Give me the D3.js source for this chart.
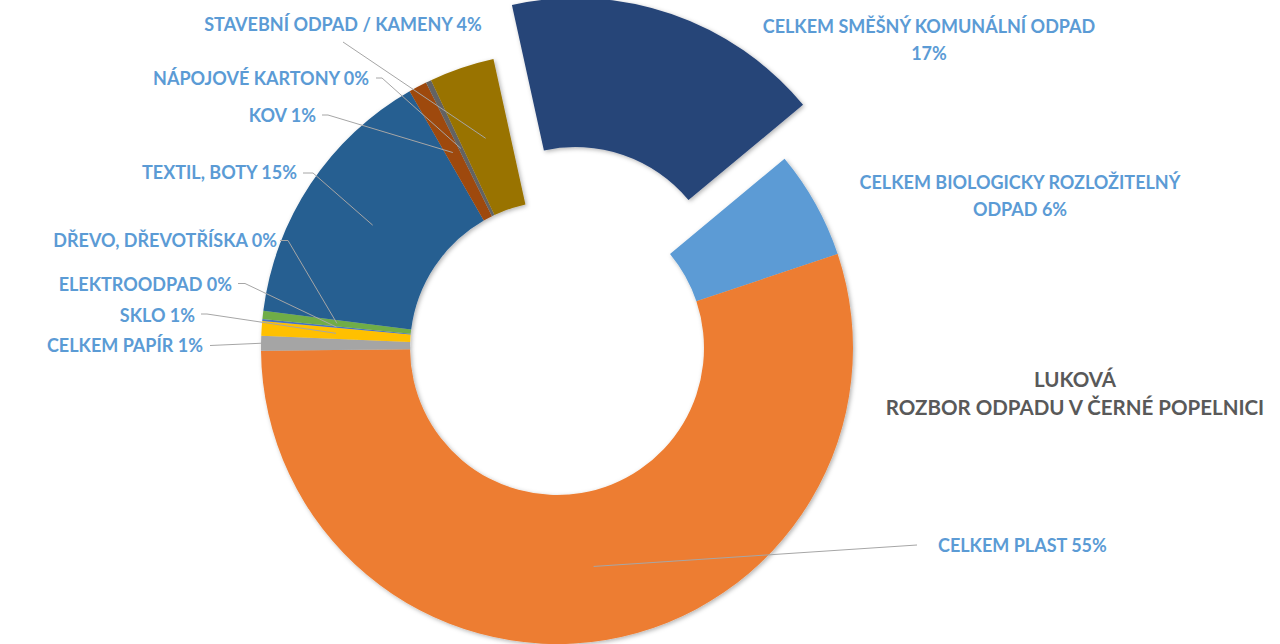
<!DOCTYPE html>
<html><head><meta charset="utf-8">
<script src="https://cdn.jsdelivr.net/npm/d3@7"></script>
<style>body{margin:0;background:#fff} svg{display:block}</style>
</head><body>
<svg id="chart" width="1280" height="644"></svg>
<script>
// ---- data ----
const categories = ["CELKEM SMĚŠNÝ KOMUNÁLNÍ ODPAD","CELKEM BIOLOGICKY ROZLOŽITELNÝ ODPAD","CELKEM PLAST","CELKEM PAPÍR","SKLO","ELEKTROODPAD","DŘEVO, DŘEVOTŘÍSKA","TEXTIL, BOTY","KOV","NÁPOJOVÉ KARTONY","STAVEBNÍ ODPAD / KAMENY"];
const values = [17.4, 5.9, 55.0, 0.8, 0.8, 0.1, 0.45, 14.7, 1.0, 0.3, 3.55];
const colors = ["#264478","#5B9BD5","#ED7D31","#A5A5A5","#FFC000","#4472C4","#70AD47","#255E91","#9E480E","#636363","#997300"];
const explodedIndex = 0;
const titleLines = ["LUKOVÁ","ROZBOR ODPADU V ČERNÉ POPELNICI"];

// ---- layout (label placement) ----
const cx = 557, cy = 348, rOuter = 296, rInner = 147, explodeDist = 57;
const startDeg = -12.4;
const labelLayout = [
  {x:929, y:27, anchor:"middle", wrap:345},
  {x:1020, y:183, anchor:"middle", wrap:330},
  {x:938, y:546, anchor:"start", leader:[[917,545]]},
  {x:203, y:346, anchor:"end", leader:[[210,345.5]], toEdge:true},
  {x:195, y:316, anchor:"end", leader:[[201,314],[207,314]]},
  {x:232, y:285, anchor:"end", leader:[[238,283.5],[245,283.5]]},
  {x:277, y:241, anchor:"end", leader:[[280,240.5],[288,240.5]]},
  {x:297, y:173, anchor:"end", leader:[[303,173],[313,173]]},
  {x:316, y:116, anchor:"end", leader:[[322,115],[328,115]]},
  {x:369, y:79, anchor:"end", leader:[[376,78],[382,78]]},
  {x:343, y:25, anchor:"middle", leader:[[343,42]]}
];

const svg = d3.select("#chart");
const defs = svg.append("defs");
const f = defs.append("filter").attr("id","sh").attr("x","-10%").attr("y","-10%").attr("width","120%").attr("height","120%");
f.append("feDropShadow").attr("dx",1.5).attr("dy",1.5).attr("stdDeviation",2)
 .attr("flood-color","#000").attr("flood-opacity",0.3);

const rad = d => d*Math.PI/180;
const pie = d3.pie().sort(null).value(d => d.v)
  .startAngle(rad(startDeg)).endAngle(rad(startDeg)+2*Math.PI);
const arc = d3.arc().innerRadius(rInner).outerRadius(rOuter);
const data = categories.map((c,i) => ({name:c, v:values[i], color:colors[i], i}));
const arcs = pie(data);

const offset = d => {
  if (d.index !== explodedIndex) return [0,0];
  const m = (d.startAngle+d.endAngle)/2;
  return [explodeDist*Math.sin(m), -explodeDist*Math.cos(m)];
};

const g = svg.append("g").attr("transform",`translate(${cx},${cy})`);
g.append("g").attr("filter","url(#sh)").selectAll("path").data(arcs).join("path")
  .attr("d", arc)
  .attr("fill", d => d.data.color)
  .attr("transform", d => { const o = offset(d); return `translate(${o[0]},${o[1]})`; });

// leaders
const fontFam = "Lato, 'Open Sans', sans-serif";
const lg = svg.append("g").attr("fill","none").attr("stroke","#A6A6A6").attr("stroke-width",1);
arcs.forEach((d,i) => {
  const L = labelLayout[i];
  if (!L.leader) return;
  const m = (d.startAngle+d.endAngle)/2;
  const r = L.toEdge ? rOuter : (rInner+rOuter)/2;
  const end = [cx + r*Math.sin(m), cy - r*Math.cos(m)];
  lg.append("path").attr("d", d3.line()([...L.leader, end]));
});

// labels
const tg = svg.append("g").attr("font-family",fontFam).attr("font-weight",700)
  .attr("font-size",18).attr("fill","#5B9BD5");
arcs.forEach((d,i) => {
  const L = labelLayout[i];
  const label = d.data.name + " " + Math.round(d.data.v) + "%";
  const t = tg.append("text").attr("text-anchor",L.anchor).attr("x",L.x).attr("y",L.y).attr("dy","0.36em");
  if (!L.wrap) { t.text(label); return; }
  const words = label.split(" ");
  let line = [], lines = [];
  const probe = tg.append("text");
  words.forEach(w => {
    const test = [...line, w].join(" ");
    probe.text(test);
    if (probe.node().getComputedTextLength() > L.wrap && line.length) { lines.push(line.join(" ")); line = [w]; }
    else line.push(w);
  });
  lines.push(line.join(" "));
  probe.remove();
  lines.forEach((ln,k) => t.append("tspan").attr("x",L.x).attr("dy", k===0 ? "0.36em" : 27).text(ln));
  t.attr("dy", null);
});

// title
svg.append("g").attr("font-family",fontFam).attr("font-weight",700).attr("font-size",20.5)
  .attr("fill","#595959").attr("text-anchor","middle")
  .selectAll("text").data(titleLines).join("text")
  .attr("x",1075).attr("y",(d,i)=>379.5+i*28.5).attr("dy","0.36em").text(d=>d);
</script>
</body></html>
